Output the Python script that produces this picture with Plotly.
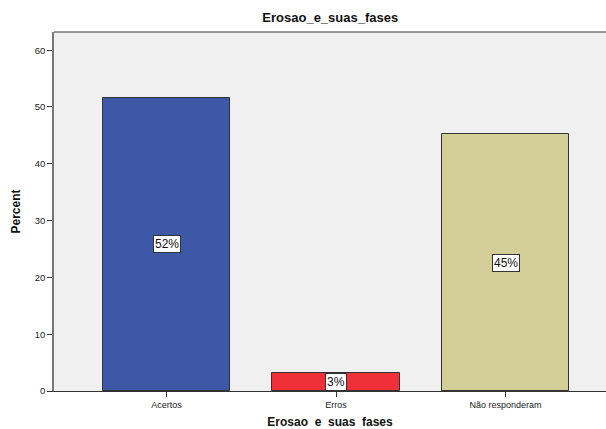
import plotly.graph_objects as go

categories = ["Acertos", "Erros", "Não responderam"]
percents = [51.6, 3.2, 45.2]
labels = ["52%", "3%", "45%"]
colors = ["#3e58a8", "#ef3038", "#d3ce98"]
y_ticks = [0, 10, 20, 30, 40, 50, 60]

positions = list(range(len(categories)))

fig = go.Figure()
fig.add_trace(go.Bar(
    x=positions,
    y=percents,
    width=0.75,
    marker=dict(color=colors, line=dict(color="#333333", width=1)),
    hoverinfo="skip",
))

for pos, val, lab in zip(positions, percents, labels):
    fig.add_annotation(
        x=pos, y=val / 2, text=lab, showarrow=False,
        font=dict(family="Liberation Sans, Arial", size=12, color="#111111"),
        bgcolor="white", bordercolor="#333333", borderwidth=1, borderpad=1,
    )

# gray frame line along the top of the plot area
fig.add_shape(type="line", xref="paper", yref="paper", x0=0, x1=1, y0=1, y1=1,
              line=dict(color="#777777", width=1.5))

fig.update_layout(
    width=606, height=429,
    margin=dict(l=54, r=0, t=32, b=38),
    paper_bgcolor="white",
    plot_bgcolor="#f0f0f0",
    showlegend=False,
    bargap=0,
    title=dict(text="<b>Erosao_e_suas_fases</b>", x=0.545, xanchor="center",
               y=0.96, yanchor="middle",
               font=dict(family="Liberation Sans, Arial", size=13, color="#111111")),
    font=dict(family="Liberation Sans, Arial", size=9, color="#222222"),
)

fig.update_xaxes(
    range=[-0.664, 2.593],
    tickmode="array", tickvals=positions, ticktext=categories,
    ticks="outside", ticklen=5, tickcolor="#333333",
    showline=True, linecolor="#333333", linewidth=1,
    showgrid=False, zeroline=False,
    tickfont=dict(size=9, color="#222222"),
    title=dict(text="<b>Erosao  e  suas  fases</b>".replace("  ", "&nbsp; "),
               font=dict(family="Liberation Sans, Arial", size=12, color="#111111"),
               standoff=11),
)
fig.update_yaxes(
    range=[0, 63.2],
    tickmode="array", tickvals=y_ticks,
    ticks="outside", ticklen=5, tickcolor="#333333",
    showline=True, linecolor="#777777", linewidth=1.5,
    showgrid=False, zeroline=False,
    tickfont=dict(size=9.5, color="#222222"),
    title=dict(text="<b>Percent</b>",
               font=dict(family="Liberation Sans, Arial", size=12, color="#111111"),
               standoff=12),
)

fig.write_html("out.html")
